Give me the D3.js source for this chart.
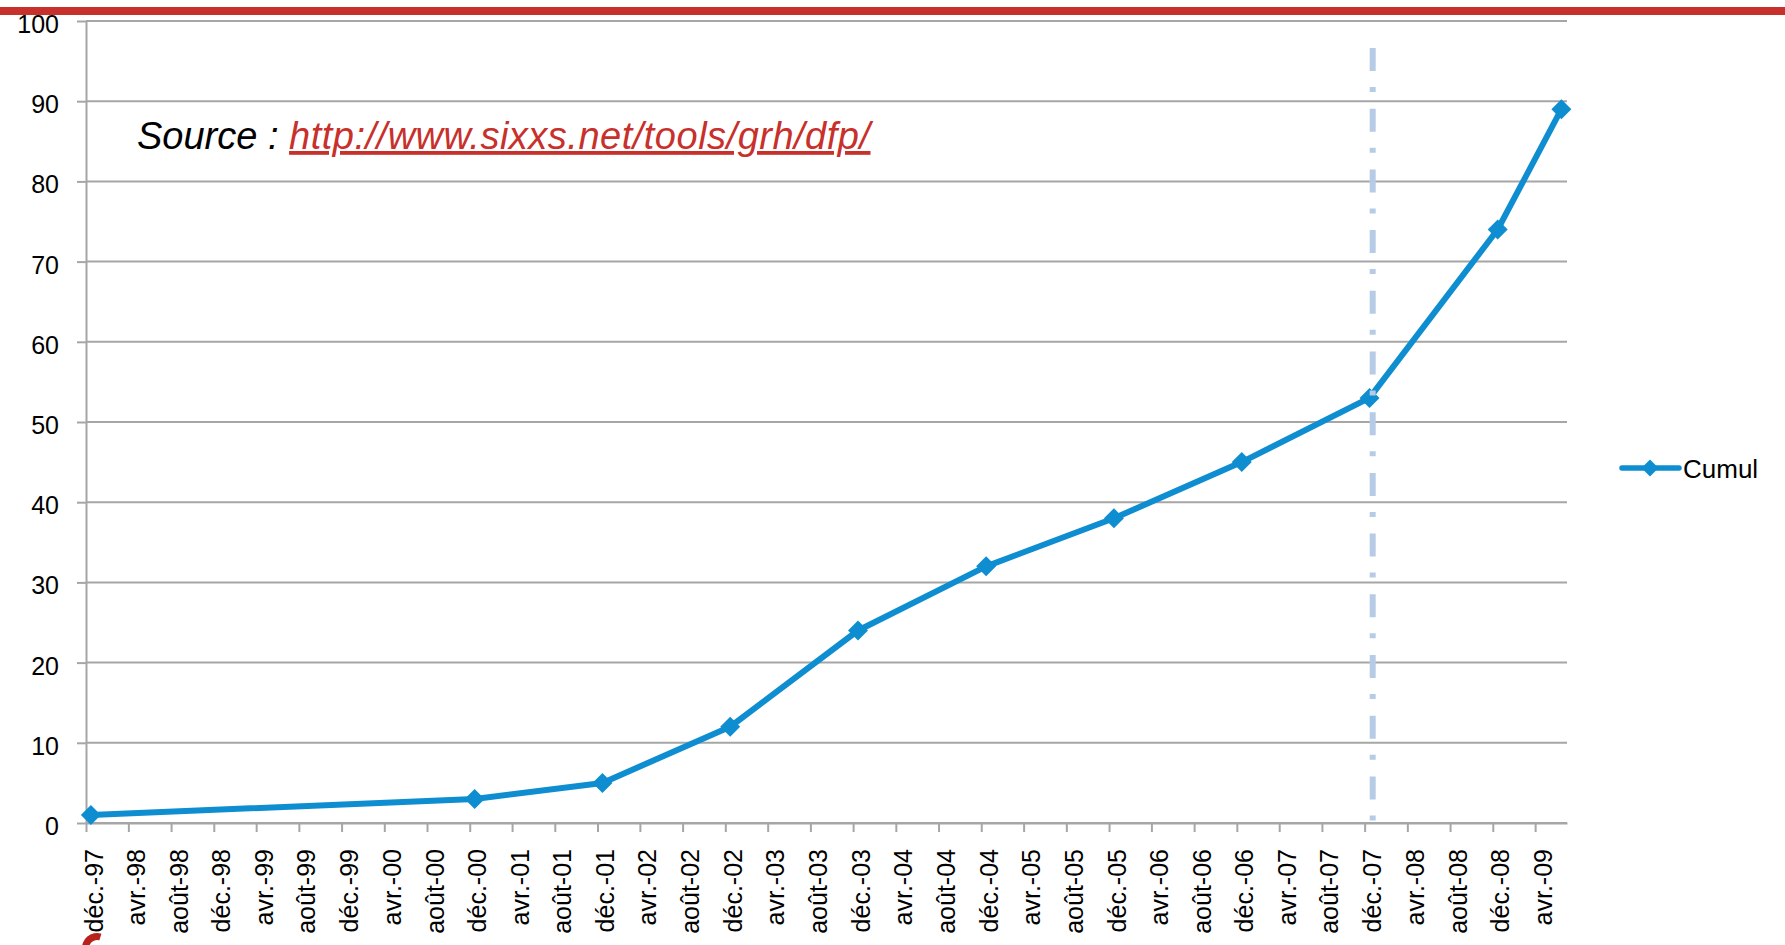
<!DOCTYPE html>
<html>
<head>
  <meta charset="utf-8">
  <style>
    body{
      margin:0;
      background:#fff;
      font-family: "Liberation Sans", Arial, sans-serif;
    }
    .grid line{
      stroke:#a6a6a6;
      stroke-width:2px;
    }
    .axis path, .axis line{
      stroke:#a6a6a6;
      stroke-width:2px;
    }
    .axis text{
      font-family: "Liberation Sans", Arial, sans-serif;
      font-size:25px;
      fill:#000;
    }
    .series-line{
      fill:none;
      stroke:#0e8ed1;
      stroke-width:6px;
      stroke-linejoin:round;
    }
    .marker{
      fill:#0e8ed1;
    }
    .cut-line{
      stroke:#b6cbe5;
      stroke-width:6px;
      stroke-dasharray:23 16 5 16.7;
    }
  </style>
  <script src="https://d3js.org/d3.v7.min.js"></script>
</head>
<body>
<div class="chart"></div>
<script>
// data points (cumulative count)
const dates = ['1997-12-15','2000-12-15','2001-12-15','2002-12-15','2003-12-15','2004-12-15',
  '2005-12-15','2006-12-15','2007-12-15','2008-12-15','2009-06-15'];
const cumul = [1, 3, 5, 12, 24, 32, 38, 45, 53, 74, 89];

// x axis tick labels, one every 4 months from déc.-97
const tickLabels = ['déc.-97','avr.-98','août-98','déc.-98','avr.-99','août-99','déc.-99','avr.-00',
  'août-00','déc.-00','avr.-01','août-01','déc.-01','avr.-02','août-02','déc.-02','avr.-03','août-03',
  'déc.-03','avr.-04','août-04','déc.-04','avr.-05','août-05','déc.-05','avr.-06','août-06','déc.-06',
  'avr.-07','août-07','déc.-07','avr.-08','août-08','déc.-08','avr.-09'];
const yTicks = [0,10,20,30,40,50,60,70,80,90,100];

const axisStart = '1997-12-01';
const axisEnd = '2009-07-01';
const cutDate = '2007-12-24';
const seriesName = 'Cumul';
const sourceLabel = 'Source : ';
const sourceUrl = 'http://www.sixxs.net/tools/grh/dfp/';

const W = 1785, H = 945;
const plotLeft = 86, plotRight = 1567, plotTop = 21, plotBottom = 823;

const svg = d3.select('.chart').append('svg')
  .attr('width', W)
  .attr('height', H);

// red band at the top of the slide
svg.append('rect')
  .attr('x', 0).attr('y', 7)
  .attr('width', W).attr('height', 8)
  .attr('fill', '#c8302c');

const parse = d3.utcParse('%Y-%m-%d');
const points = dates.map((d,i)=>({date:parse(d), value:cumul[i]}));
const tickDates = tickLabels.map((_,i)=>d3.utcMonth.offset(parse(axisStart), 4*i));

const x = d3.scaleUtc()
  .domain([parse(axisStart), parse(axisEnd)])
  .range([plotLeft, plotRight]);

const y = d3.scaleLinear()
  .domain([0, 100])
  .range([plotBottom, plotTop]);

// horizontal gridlines
svg.append('g')
  .attr('class', 'grid')
  .selectAll('line')
  .data(yTicks)
  .join('line')
  .attr('x1', plotLeft).attr('x2', plotRight)
  .attr('y1', d=>y(d)).attr('y2', d=>y(d));

// y axis
const yAxis = svg.append('g')
  .attr('class', 'axis')
  .attr('transform', `translate(${plotLeft},0)`)
  .call(d3.axisLeft(y).tickValues(yTicks).tickSize(9).tickSizeOuter(0).tickPadding(18));
yAxis.selectAll('text').attr('dy', '0.46em');

// x axis
const xAxis = svg.append('g')
  .attr('class', 'axis')
  .attr('transform', `translate(0,${plotBottom})`)
  .call(d3.axisBottom(x).tickValues(tickDates).tickSize(9).tickSizeOuter(0)
    .tickFormat((d,i)=>tickLabels[i]));
xAxis.selectAll('text')
  .attr('transform', 'rotate(-90)')
  .attr('text-anchor', 'end')
  .attr('x', -26)
  .attr('y', 16)
  .attr('dy', 0);

// series
const line = d3.line()
  .x(d=>x(d.date))
  .y(d=>y(d.value));

svg.append('path')
  .datum(points)
  .attr('class', 'series-line')
  .attr('d', line);

const diamond = r => `M0,${-r}L${r},0L0,${r}L${-r},0Z`;

svg.append('g')
  .selectAll('path')
  .data(points)
  .join('path')
  .attr('class', 'marker')
  .attr('transform', d=>`translate(${x(d.date)},${y(d.value)})`)
  .attr('d', diamond(10));

// vertical dash-dot marker
svg.append('line')
  .attr('class', 'cut-line')
  .attr('x1', x(parse(cutDate))).attr('x2', x(parse(cutDate)))
  .attr('y1', 48).attr('y2', plotBottom);

// source annotation
const src = svg.append('text')
  .attr('x', 137)
  .attr('y', 149)
  .attr('font-size', 38)
  .attr('font-style', 'italic');
src.append('tspan').attr('fill', '#000').text(sourceLabel);
src.append('tspan')
  .attr('fill', '#c8302c')
  .attr('letter-spacing', 0.5)
  .attr('text-decoration', 'underline')
  .text(sourceUrl);

// legend
const lg = svg.append('g').attr('transform', 'translate(1622,468)');
lg.append('line')
  .attr('x1', 0).attr('x2', 57)
  .attr('stroke', '#0e8ed1')
  .attr('stroke-width', 5.5)
  .attr('stroke-linecap', 'round');
lg.append('path')
  .attr('class', 'marker')
  .attr('transform', 'translate(28,0)')
  .attr('d', diamond(8.5));
lg.append('text')
  .attr('x', 61)
  .attr('y', 10)
  .attr('font-size', 26)
  .text(seriesName);

// cropped logo swirl at the bottom left
svg.append('path')
  .attr('transform', 'translate(97,948)')
  .attr('d', d3.arc()({innerRadius:8, outerRadius:15, startAngle:-1.7, endAngle:0.3}))
  .attr('fill', '#b8221c');
</script>
</body>
</html>
